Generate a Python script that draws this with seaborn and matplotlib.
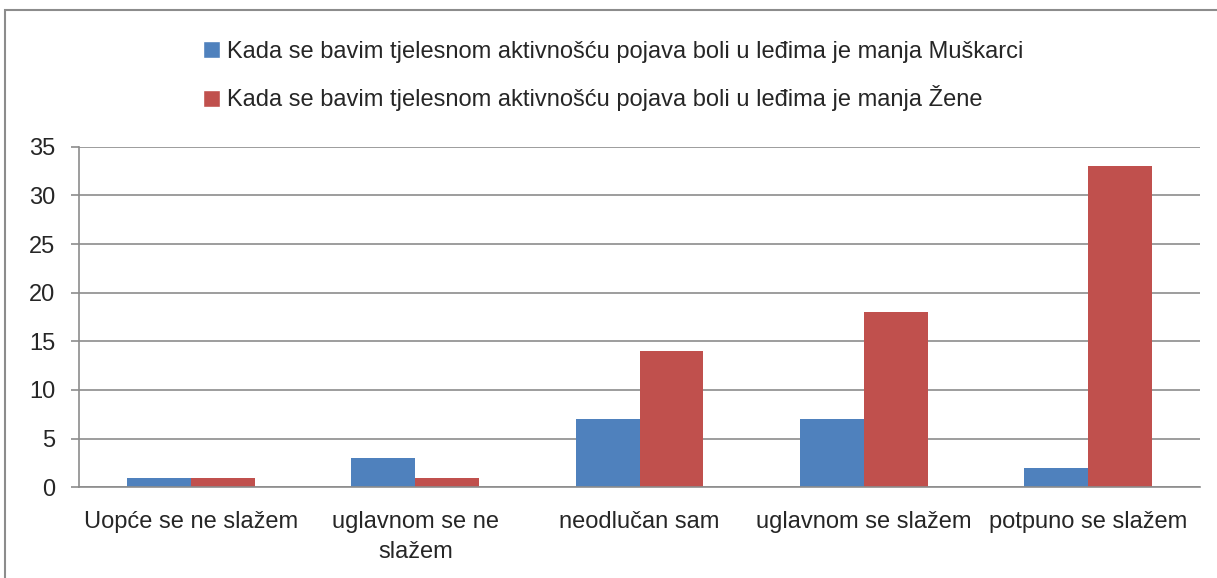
import pandas as pd
import numpy as np
import matplotlib
matplotlib.use('Agg')
import matplotlib.pyplot as plt
import seaborn as sns
from matplotlib.patches import Patch, Rectangle

categories = ['Uopće se ne slažem', 'uglavnom se ne slažem', 'neodlučan sam',
              'uglavnom se slažem', 'potpuno se slažem']
tick_labels = ['Uopće se ne slažem', 'uglavnom se ne\nslažem', 'neodlučan sam',
               'uglavnom se slažem', 'potpuno se slažem']
series = ['Kada se bavim tjelesnom aktivnošću pojava boli u leđima je manja Muškarci',
          'Kada se bavim tjelesnom aktivnošću pojava boli u leđima je manja Žene']
muskarci = [1, 3, 7, 7, 2]
zene = [1, 1, 14, 18, 33]
colors = ['#4F81BD', '#C0504D']

df = pd.DataFrame({
    'kategorija': categories * 2,
    'serija': [series[0]] * 5 + [series[1]] * 5,
    'vrijednost': muskarci + zene,
})

sns.set_style('white')
plt.rcParams['font.family'] = ['Liberation Sans', 'DejaVu Sans']

fig = plt.figure(figsize=(12.17, 5.78), dpi=100)
ax = fig.add_axes([0.065, 0.157, 0.921, 0.589])

sns.barplot(data=df, x='kategorija', y='vrijednost', hue='serija', order=categories,
            hue_order=series, palette=colors, width=0.57, gap=0, saturation=1,
            linewidth=0, legend=False, ax=ax)

ax.set_ylim(0, 35)
ax.set_xlim(-0.5, 4.5)
ax.set_yticks(range(0, 36, 5))
ax.yaxis.grid(True, color='#8c8c8c', linewidth=1.2)
ax.set_axisbelow(True)
ax.set_xlabel('')
ax.set_ylabel('')
ax.set_xticks(range(5))
ax.set_xticklabels(tick_labels, fontsize=17, linespacing=1.45)
ax.set_xticks(np.arange(-0.5, 5, 1), minor=True)
ax.tick_params(axis='x', which='major', length=0, pad=17)
ax.tick_params(axis='x', which='minor', length=7, color='#8c8c8c', width=1.2)
ax.tick_params(axis='y', labelsize=17, length=6, color='#8c8c8c', width=1.2, left=True, pad=11)
for s in ['top', 'right']:
    ax.spines[s].set_visible(False)
for s in ['left', 'bottom']:
    ax.spines[s].set_color('#8c8c8c')
    ax.spines[s].set_linewidth(1.2)

handles = [Patch(facecolor=c) for c in colors]
fig.legend(handles, series, loc='upper left', bbox_to_anchor=(0.1665, 0.929),
           frameon=False, fontsize=17, handlelength=0.75, handleheight=0.75,
           handletextpad=0.28, labelspacing=0.95, borderpad=0, borderaxespad=0)

fig.patches.append(Rectangle((0.004, -0.01), 1.0, 0.993, transform=fig.transFigure,
                             fill=False, edgecolor='#8c8c8c', linewidth=1.5))

fig.savefig('out.png', dpi=100, facecolor='white')
